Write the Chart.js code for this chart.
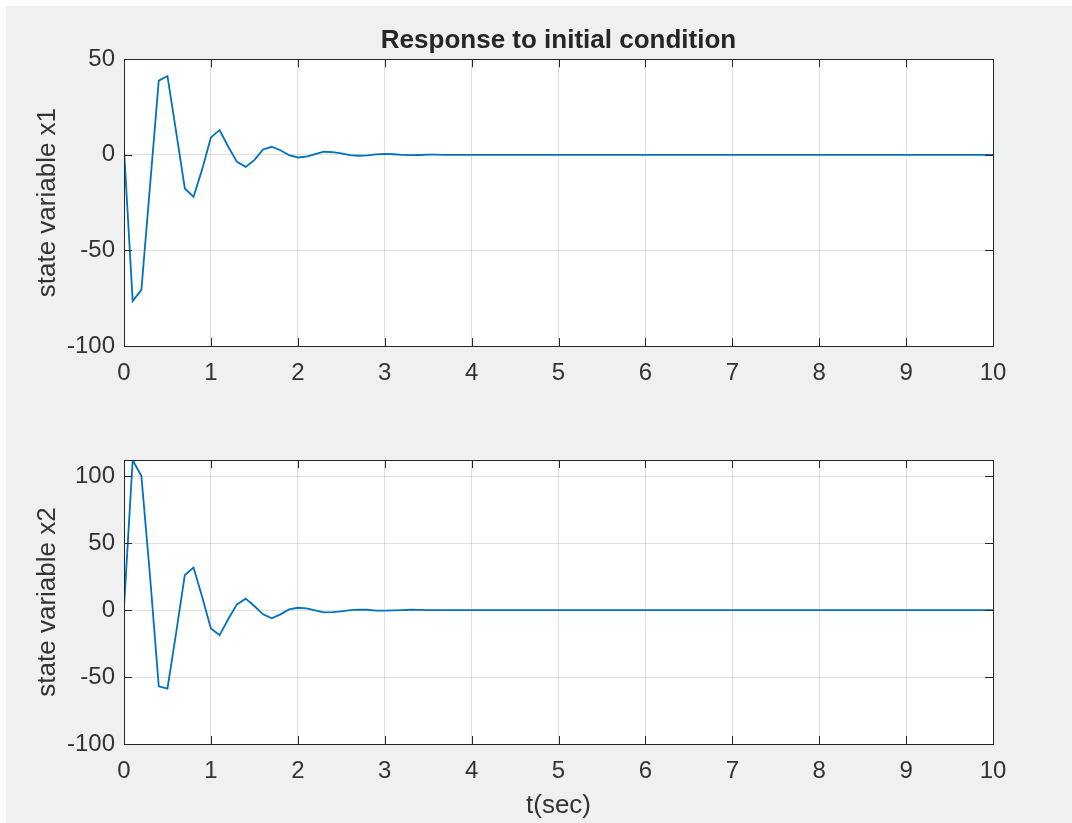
<!DOCTYPE html>
<html>
<head>
<meta charset="utf-8">
<script src="https://cdn.jsdelivr.net/npm/chart.js@4/dist/chart.umd.min.js"></script>
<style>
    html, body { margin: 0; padding: 0; background: #ffffff; }
    body { width: 1072px; height: 823px; position: relative; overflow: hidden; }
    #figure { position: absolute; left: 6px; top: 6px; width: 1066px; height: 817px; background: #f0f0f0; }
    #top { position: absolute; left: 0; top: 0; }
    #bottom { position: absolute; left: 0; top: 400px; }
</style>
</head>
<body>
<div id="figure">
    <canvas id="top" width="1066" height="400"></canvas>
    <canvas id="bottom" width="1066" height="417"></canvas>
</div>
<script>
// time samples (sec)
const tSec = [0, 0.1, 0.2, 0.3, 0.4, 0.5, 0.6, 0.7, 0.8, 0.9,
    1.0, 1.1, 1.2, 1.3, 1.4, 1.5, 1.6, 1.7, 1.8, 1.9,
    2.0, 2.1, 2.2, 2.3, 2.4, 2.5, 2.6, 2.7, 2.8, 2.9,
    3.0, 3.1, 3.2, 3.3, 3.4, 3.5, 3.6, 3.7, 3.8, 3.9,
    4.0, 5, 6, 7, 8, 9, 10];

// state variable x1
const x1Values = [3, -76.5, -70.6, -16, 38.8, 41.2, 12, -17.6, -22, -7.5,
    9.1, 12.9, 4.2, -3.7, -6.3, -2.8, 2.8, 4.2, 2.4, -0.2,
    -1.4, -1.0, 0.3, 1.6, 1.4, 0.8, -0.2, -0.5, -0.3, 0.2,
    0.5, 0.3, 0.0, -0.2, -0.1, 0.1, 0.1, 0.0, 0, 0,
    0, 0, 0, 0, 0, 0, 0];

// state variable x2
const x2Values = [2, 112, 100, 25, -57, -58.6, -17, 26.2, 31.7, 9.7,
    -13.7, -18.7, -6.7, 4.2, 8.5, 3.0, -3.2, -6.2, -3.2, 0.5,
    1.7, 1.2, -0.2, -1.7, -1.5, -1.0, 0, 0.3, 0.2, -0.4,
    -0.5, -0.3, 0, 0.2, 0.1, 0, 0, 0, 0, 0,
    0, 0, 0, 0, 0, 0, 0];

const xTicks = [0, 1, 2, 3, 4, 5, 6, 7, 8, 9, 10];
const y1Ticks = [-100, -50, 0, 50];
const y2Ticks = [-100, -50, 0, 50, 100];

const axisColor = '#262626';
const textColor = '#333333';
const lineColor = '#0072BD';
const fontFamily = '"Liberation Sans", Arial, Helvetica, sans-serif';

// white plot box, dark frame and inward ticks on all four sides (matlab look)
const boxPlugin = {
    id: 'box',
    beforeDraw(chart) {
        const a = chart.chartArea;
        const ctx = chart.ctx;
        ctx.save();
        ctx.fillStyle = '#ffffff';
        ctx.fillRect(a.left, a.top, a.right - a.left, a.bottom - a.top);
        ctx.restore();
    },
    afterDraw(chart) {
        const a = chart.chartArea;
        const ctx = chart.ctx;
        const len = 8;
        ctx.save();
        ctx.strokeStyle = axisColor;
        ctx.lineWidth = 1;
        ctx.beginPath();
        chart.scales.x.ticks.forEach(t => {
            const px = Math.round(chart.scales.x.getPixelForValue(t.value)) + 0.5;
            ctx.moveTo(px, a.bottom); ctx.lineTo(px, a.bottom - len);
            ctx.moveTo(px, a.top); ctx.lineTo(px, a.top + len);
        });
        chart.scales.y.ticks.forEach(t => {
            const py = Math.round(chart.scales.y.getPixelForValue(t.value)) + 0.5;
            ctx.moveTo(a.left, py); ctx.lineTo(a.left + len, py);
            ctx.moveTo(a.right, py); ctx.lineTo(a.right - len, py);
        });
        ctx.stroke();
        ctx.strokeRect(Math.round(a.left) + 0.5, Math.round(a.top) + 0.5,
            Math.round(a.right - a.left), Math.round(a.bottom - a.top));
        ctx.restore();
    }
};

function makeChart(canvasId, values, yLabel, yMin, yMax, yTicks, opts) {
    const data = tSec.map((t, i) => ({ x: t, y: values[i] }));
    return new Chart(document.getElementById(canvasId).getContext('2d'), {
        type: 'line',
        data: {
            datasets: [{
                data: data,
                borderColor: lineColor,
                borderWidth: 1.8,
                pointRadius: 0,
                tension: 0,
                fill: false
            }]
        },
        options: {
            responsive: false,
            animation: false,
            events: [],
            layout: {
                padding: { left: 0, right: 79, top: opts.padTop, bottom: 0 }
            },
            plugins: {
                legend: { display: false },
                tooltip: { enabled: false },
                title: {
                    display: opts.title !== undefined,
                    text: opts.title,
                    fullSize: false,
                    color: axisColor,
                    font: { family: fontFamily, size: 26, weight: 'bold' },
                    padding: { top: 19, bottom: 3 }
                }
            },
            scales: {
                x: {
                    type: 'linear',
                    min: 0,
                    max: 10,
                    afterBuildTicks: s => { s.ticks = xTicks.map(v => ({ value: v })); },
                    afterFit: s => { s.height = opts.xHeight; },
                    border: { display: false },
                    grid: { color: 'rgba(38,38,38,0.15)', drawTicks: false },
                    ticks: {
                        color: textColor,
                        padding: 13,
                        maxRotation: 0,
                        font: { family: fontFamily, size: 24 }
                    },
                    title: {
                        display: opts.xLabel !== undefined,
                        text: opts.xLabel,
                        color: textColor,
                        padding: { top: 0, bottom: 2 },
                        font: { family: fontFamily, size: 26 }
                    }
                },
                y: {
                    type: 'linear',
                    min: yMin,
                    max: yMax,
                    afterBuildTicks: s => { s.ticks = yTicks.map(v => ({ value: v })); },
                    afterFit: s => { s.width = 118; },
                    border: { display: false },
                    grid: { color: 'rgba(38,38,38,0.15)', drawTicks: false },
                    ticks: {
                        color: textColor,
                        padding: 9,
                        font: { family: fontFamily, size: 24 }
                    },
                    title: {
                        display: true,
                        text: yLabel,
                        color: textColor,
                        padding: { top: 26, bottom: 0 },
                        font: { family: fontFamily, size: 26 }
                    }
                }
            }
        },
        plugins: [boxPlugin]
    });
}

makeChart('top', x1Values, 'state variable x1', -100, 50, y1Ticks,
    { title: 'Response to initial condition', padTop: 0, xHeight: 60 });
makeChart('bottom', x2Values, 'state variable x2', -100, 112, y2Ticks,
    { xLabel: 't(sec)', padTop: 54, xHeight: 79 });
</script>
</body>
</html>
